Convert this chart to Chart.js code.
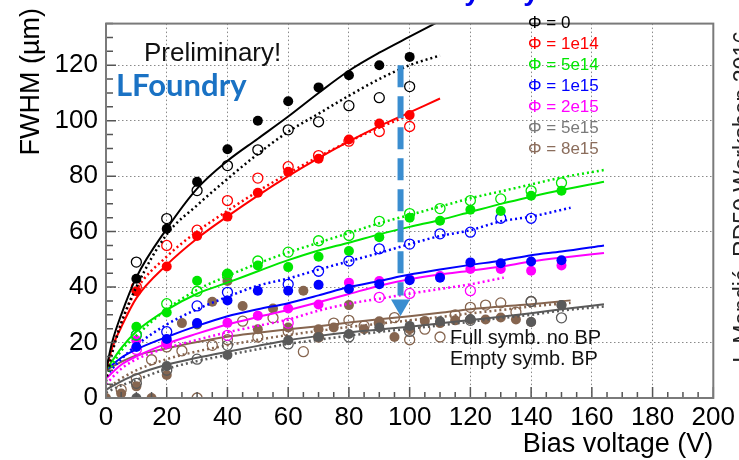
<!DOCTYPE html>
<html>
<head>
<meta charset="utf-8">
<script src="https://cdn.jsdelivr.net/npm/chart.js@4.4.0/dist/chart.umd.min.js"></script>
<style>
    html, body { margin: 0; padding: 0; background: #fff; }
    #wrap { width: 739px; height: 460px; }
</style>
</head>
<body>
<div id="wrap"><canvas id="fwhmChart" width="739" height="460"></canvas></div>
<script>
// Axis ticks
const xTickValues = [0, 20, 40, 60, 80, 100, 120, 140, 160, 180, 200];
const yTickValues = [0, 20, 40, 60, 80, 100, 120];

// Legend labels (one per fluence)
const fluenceLabels = ['Φ = 0', 'Φ = 1e14', 'Φ = 5e14', 'Φ = 1e15', 'Φ = 2e15', 'Φ = 5e15', 'Φ = 8e15'];

// Measured points [bias V, FWHM um]: Full = no BP, Empty = BP
const phi0Full = [[10, 43], [20, 61], [30, 78], [40, 89.7], [50, 100], [60, 107], [70, 112], [80, 116.4], [90, 120], [100, 123]];
const phi0Empty = [[10, 49], [20, 64.7], [30, 74.8], [40, 83.8], [50, 89.5], [60, 96.7], [70, 99.6], [80, 105.4], [90, 108.3], [100, 112.3]];
const phi1e14Full = [[10, 38.5], [20, 47.4], [30, 58.4], [40, 65.4], [50, 74], [60, 81.6], [70, 86.3], [80, 93.2], [90, 99], [100, 102]];
const phi1e14Empty = [[10, 40], [20, 55], [30, 60.5], [40, 71.2], [50, 79.3], [60, 83.4], [70, 87.4], [80, 92.6], [90, 96.1], [100, 97.9]];
const phi5e14Full = [[10, 25.7], [20, 30.8], [30, 42.3], [40, 44.9], [50, 47.8], [60, 47.2], [70, 50.9], [80, 53], [90, 58], [100, 65], [110, 63.9], [120, 67.9], [130, 67.4], [140, 72.9], [150, 74.7]];
const phi5e14Empty = [[10, 22.7], [20, 34], [30, 38.5], [40, 44.5], [50, 49.4], [60, 52.6], [70, 56.7], [80, 58.6], [90, 63.7], [100, 66.5], [110, 68.3], [120, 71.2], [130, 71.8], [140, 74.7], [150, 77.6]];
const phi1e15Full = [[10, 18.4], [20, 21.3], [30, 27], [40, 35.2], [50, 38.7], [60, 38.7], [70, 40.8], [80, 39.3], [90, 41], [100, 42.5], [110, 43.4], [120, 48.9], [130, 48.6], [140, 49.2], [150, 49.7]];
const phi1e15Empty = [[10, 22.7], [20, 23.9], [30, 33.2], [40, 38.1], [60, 41], [70, 45.7], [80, 49.4], [90, 53.8], [100, 55.5], [110, 59.2], [120, 59.8], [130, 64.8], [140, 64.8]];
const phi2e15Full = [[10, 20.8], [20, 19.6], [40, 27.1], [50, 29.7], [60, 32.3], [70, 33.7], [80, 41.6], [90, 42.2], [100, 42.8], [110, 44], [120, 46.5], [130, 46.5], [140, 45.9], [150, 47.8]];
const phi2e15Empty = [[10, 17.5], [20, 20], [40, 22.6], [60, 27], [90, 36.3], [100, 37.7], [120, 38.7]];
const phi5e15Full = [[10, 0], [20, 11.5], [30, 26.5], [40, 15.5], [60, 20.8], [70, 22], [80, 23.1], [90, 25.4], [100, 26], [110, 27.7], [120, 28.5], [140, 27.4], [150, 33.5]];
const phi5e15Empty = [[10, 5.3], [20, 10], [30, 14], [40, 19], [60, 19.5], [80, 22], [100, 24], [120, 28], [140, 34.8], [150, 28.9]];
const phi8e15Full = [[0, 0], [5, 1.6], [10, 4.2], [15, 0], [20, 8.3], [25, 27], [35, 34.7], [40, 42.2], [45, 33.2], [50, 24.8], [55, 32.3], [60, 25.4], [65, 38.7], [70, 24.8], [75, 25.4], [80, 33.5], [85, 24.8], [90, 27.7], [95, 22], [100, 24.8], [105, 27.8], [110, 27], [115, 28], [120, 28.3], [125, 28.3], [130, 29], [135, 28.3], [140, 27.4], [150, 33.5]];
const phi8e15Empty = [[5, 3], [10, 7], [15, 13.8], [20, 18.4], [25, 17], [30, 0], [35, 19], [40, 21], [45, 27.7], [50, 22], [55, 28.9], [60, 24], [65, 16.7], [70, 22], [75, 27], [80, 28], [85, 26], [90, 27], [95, 29], [100, 21], [105, 24.8], [110, 22], [115, 30], [120, 32.7], [125, 33.5], [130, 34.3], [135, 31], [140, 34.8]];

// Fit curves: solid = no BP, dotted = BP
const phi0FitFull = [[0, 10], [2, 20], [5, 30], [10, 43.5], [20, 61], [30, 75.5], [40, 85.5], [50, 93.5], [60, 101.5], [70, 110], [80, 118], [90, 124.5], [100, 130.3], [110, 136]];
const phi0FitEmpty = [[0, 6], [2, 16], [5, 27], [10, 40], [20, 59], [30, 69.5], [40, 79], [50, 88], [60, 96], [70, 102.5], [80, 109], [90, 115], [100, 120], [110, 123.5]];
const phi1e14FitFull = [[0, 10], [2, 18], [5, 25.5], [10, 36], [20, 48], [30, 57.5], [40, 65.5], [50, 73], [60, 80], [70, 86.5], [80, 92.5], [90, 98], [100, 103], [110, 108]];
const phi1e14FitEmpty = [[0, 8], [2, 17], [5, 27], [10, 39], [20, 51], [30, 60], [40, 67.5], [50, 74.5], [60, 81], [70, 87], [80, 92.5], [90, 97.5], [100, 102]];
const phi5e14FitFull = [[0, 10], [5, 18], [10, 24], [20, 31.8], [30, 37.6], [40, 41.6], [50, 45.7], [60, 49.7], [70, 53.2], [80, 56], [90, 59], [100, 61.7], [110, 64.2], [120, 67.1], [130, 70], [140, 72.6], [150, 75], [164, 78]];
const phi5e14FitEmpty = [[0, 8], [5, 17], [10, 22.5], [20, 32], [30, 39], [40, 44], [50, 48.5], [60, 52.5], [70, 56], [80, 59.5], [90, 63], [100, 66], [110, 69], [120, 72], [130, 74.5], [140, 77], [150, 79.5], [164, 82.2]];
const phi1e15FitFull = [[0, 10], [5, 14.5], [10, 17.5], [20, 22], [30, 26], [40, 29.5], [50, 32], [60, 34.2], [70, 37], [80, 40], [90, 42.2], [100, 44.5], [110, 46.3], [120, 48], [130, 49.5], [140, 51.5], [150, 52.8], [164, 55]];
const phi1e15FitEmpty = [[0, 8], [5, 14], [10, 19], [20, 26.5], [30, 32], [40, 36.5], [50, 40.5], [60, 43.1], [70, 46.3], [80, 49.3], [90, 52.3], [100, 55.5], [110, 58.4], [120, 60.5], [130, 63.7], [140, 65.4], [153, 68.6]];
const phi2e15FitFull = [[0, 7], [5, 12], [10, 15], [20, 19.6], [30, 23.2], [40, 26.5], [50, 29.2], [60, 31.7], [70, 34.5], [80, 37.5], [90, 40.5], [100, 42.8], [110, 44.5], [120, 45.9], [130, 47.4], [140, 49.2], [150, 50.6], [164, 52.3]];
const phi2e15FitEmpty = [[0, 5], [5, 10.5], [10, 14], [20, 18], [30, 21], [40, 23.7], [50, 26], [60, 28.3], [70, 31.5], [80, 34], [90, 35.8], [100, 37.6], [110, 39.3], [120, 41], [131, 43.4]];
const phi5e15FitFull = [[0, 3], [5, 6], [10, 8.5], [20, 12], [30, 14.5], [40, 16.7], [50, 18.8], [60, 20.8], [70, 22.4], [80, 23.7], [90, 24.7], [100, 25.7], [110, 26.9], [120, 28.1], [130, 29.3], [140, 30.6], [150, 32], [164, 33.8]];
const phi5e15FitEmpty = [[0, 2], [5, 4.5], [10, 6.5], [20, 10.5], [30, 13.3], [40, 15.5], [50, 17.6], [60, 19.5], [70, 21], [80, 22.5], [90, 23.8], [100, 25], [110, 26.2], [120, 27.5], [130, 28.8], [140, 30], [150, 31.5], [164, 33]];
const phi8e15FitFull = [[0, 10], [5, 13], [10, 15.3], [20, 17.9], [30, 20.2], [40, 22.1], [50, 23.5], [60, 24.8], [70, 25.9], [80, 27.2], [90, 28.4], [100, 29.5], [110, 30.7], [120, 32], [130, 33], [140, 33.8], [153, 35.2]];
const phi8e15FitEmpty = [[0, 3], [5, 7], [10, 10], [20, 14], [30, 16.8], [40, 19], [50, 21], [60, 22.7], [70, 24.2], [80, 25.6], [90, 26.8], [100, 28], [110, 29.2], [120, 30.5], [130, 31.7], [140, 33], [153, 34.3]];

// Blue arrow (bias V, FWHM um)
const arrowShaft = [[97, 120], [97, 37]];
const arrowHead = [[97, 33.5]];

// Styles
const fluenceColors = ['#000000', '#ff0000', '#00e600', '#0000ff', '#ff00ff', '#5a5a5a', '#86654f'];
const legendColors = ['#000000', '#ff0000', '#00e600', '#0000ff', '#ff00ff', '#7a7a7a', '#8b6d5c'];
const arrowColor = '#3a8dd0';
const FONT = '"Liberation Sans", Arial, Helvetica, sans-serif';

const fluences = [
    { full: phi0Full, empty: phi0Empty, fitFull: phi0FitFull, fitEmpty: phi0FitEmpty },
    { full: phi1e14Full, empty: phi1e14Empty, fitFull: phi1e14FitFull, fitEmpty: phi1e14FitEmpty },
    { full: phi5e14Full, empty: phi5e14Empty, fitFull: phi5e14FitFull, fitEmpty: phi5e14FitEmpty },
    { full: phi1e15Full, empty: phi1e15Empty, fitFull: phi1e15FitFull, fitEmpty: phi1e15FitEmpty },
    { full: phi2e15Full, empty: phi2e15Empty, fitFull: phi2e15FitFull, fitEmpty: phi2e15FitEmpty },
    { full: phi5e15Full, empty: phi5e15Empty, fitFull: phi5e15FitFull, fitEmpty: phi5e15FitEmpty },
    { full: phi8e15Full, empty: phi8e15Empty, fitFull: phi8e15FitFull, fitEmpty: phi8e15FitEmpty }
];

function toPoints(arr) {
    return arr.map(p => ({ x: p[0], y: p[1] }));
}

function buildDatasets() {
    const datasets = [];

    // arrow on top of everything
    datasets.push({
        data: toPoints(arrowShaft),
        showLine: true,
        borderColor: arrowColor,
        borderWidth: 6,
        borderDash: [22, 9],
        pointRadius: 0
    });
    datasets.push({
        data: toPoints(arrowHead),
        pointStyle: 'triangle',
        rotation: 180,
        pointRadius: 11,
        backgroundColor: arrowColor,
        borderColor: arrowColor,
        borderWidth: 0
    });

    fluences.forEach((f, i) => {
        const color = fluenceColors[i];
        datasets.push({
            data: toPoints(f.full),
            pointStyle: 'circle',
            pointRadius: 5,
            backgroundColor: color,
            borderColor: color,
            borderWidth: 0
        });
        datasets.push({
            data: toPoints(f.empty),
            pointStyle: 'circle',
            pointRadius: 5,
            backgroundColor: 'rgba(0,0,0,0)',
            borderColor: color,
            borderWidth: 1.3
        });
        datasets.push({
            data: toPoints(f.fitFull),
            showLine: true,
            borderColor: color,
            borderWidth: 2,
            tension: 0.4,
            cubicInterpolationMode: 'monotone',
            pointRadius: 0
        });
        datasets.push({
            data: toPoints(f.fitEmpty),
            showLine: true,
            borderColor: color,
            borderWidth: 2.5,
            borderDash: [2, 3],
            tension: 0.4,
            cubicInterpolationMode: 'monotone',
            pointRadius: 0
        });
    });
    return datasets;
}

// Frame, inner ticks, titles and free texts
const decorPlugin = {
    id: 'decor',
    afterDraw(chart) {
        const ctx = chart.ctx;
        const area = chart.chartArea;
        const xs = chart.scales.x;
        const ys = chart.scales.y;
        ctx.save();

        // inner tick marks (major every 20, minor every 5)
        ctx.strokeStyle = '#555';
        ctx.lineWidth = 1.5;
        ctx.beginPath();
        for (let v = 0; v <= xs.max; v += 5) {
            const px = xs.getPixelForValue(v);
            const len = v % 20 === 0 ? 11 : 6;
            ctx.moveTo(px, area.bottom);
            ctx.lineTo(px, area.bottom - len);
        }
        for (let v = 0; v <= ys.max; v += 5) {
            const py = ys.getPixelForValue(v);
            const len = v % 20 === 0 ? 10 : 7;
            ctx.moveTo(area.left, py);
            ctx.lineTo(area.left + len, py);
        }
        ctx.stroke();

        // frame
        ctx.strokeStyle = '#7a7a7a';
        ctx.lineWidth = 2;
        ctx.strokeRect(area.left, area.top, area.right - area.left, area.bottom - area.top);

        // axis titles
        ctx.fillStyle = '#000';
        ctx.font = '27px ' + FONT;
        ctx.textAlign = 'right';
        ctx.textBaseline = 'alphabetic';
        ctx.fillText('Bias voltage (V)', area.right, 452);

        ctx.save();
        ctx.translate(39, 8);
        ctx.rotate(-Math.PI / 2);
        ctx.textAlign = 'right';
        ctx.fillText('FWHM (\u00b5m)', 0, 0);
        ctx.restore();

        // Preliminary / LFoundry
        ctx.textAlign = 'left';
        ctx.font = '26px ' + FONT;
        ctx.fillStyle = '#111';
        ctx.fillText('Preliminary!', 144, 61);
        ctx.font = 'bold 31px Lato, "Open Sans", sans-serif';
        ctx.fillStyle = '#1a72c4';
        ctx.fillText('LFoundry', 116, 96);

        // legend texts
        ctx.font = '17px ' + FONT;
        ctx.textBaseline = 'middle';
        fluenceLabels.forEach((lab, i) => {
            ctx.fillStyle = legendColors[i];
            ctx.fillText(lab, 528, 23 + i * 21);
        });

        // symbol note
        ctx.fillStyle = '#111';
        ctx.font = '20px ' + FONT;
        ctx.fillText('Full symb. no BP', 450, 338);
        ctx.fillText('Empty symb. BP', 450, 359);

        // cut-off title above the frame
        ctx.fillStyle = '#0000ee';
        ctx.font = 'bold 28px ' + FONT;
        ctx.textBaseline = 'alphabetic';
        ctx.textAlign = 'center';
        ctx.fillText('y', 472, 0);
        ctx.fillText('y', 531, 0);

        // side note, cut at the right edge
        ctx.save();
        ctx.translate(750, 363);
        ctx.rotate(-Math.PI / 2);
        ctx.textAlign = 'left';
        ctx.fillStyle = '#222';
        ctx.font = '23px ' + FONT;
        ctx.fillText('I. Mandi\u0107, RD50 Workshop 2016', 0, 0);
        ctx.restore();

        ctx.restore();
    }
};

const ctx = document.getElementById('fwhmChart').getContext('2d');

const fwhmChart = new Chart(ctx, {
    type: 'scatter',
    data: { datasets: buildDatasets() },
    options: {
        responsive: false,
        animation: false,
        events: [],
        layout: { padding: { left: 0, top: 10, right: 21, bottom: 0 } },
        plugins: {
            legend: { display: false },
            tooltip: { enabled: false }
        },
        scales: {
            x: {
                type: 'linear',
                min: 0,
                max: 200,
                afterFit: function(scale) { scale.height = 62; },
                afterBuildTicks: function(scale) {
                    scale.ticks = xTickValues.map(v => ({ value: v }));
                },
                ticks: {
                    font: { family: FONT, size: 26 },
                    color: '#000',
                    padding: 4,
                    maxRotation: 0,
                    autoSkip: false
                },
                grid: { color: '#8a8a8a', lineWidth: 1, drawTicks: false },
                border: { display: false, dash: [1.5, 2.5] }
            },
            y: {
                type: 'linear',
                min: 0,
                max: 135,
                afterFit: function(scale) { scale.width = 106; },
                afterBuildTicks: function(scale) {
                    scale.ticks = yTickValues.map(v => ({ value: v }));
                },
                ticks: {
                    font: { family: FONT, size: 26 },
                    color: '#000',
                    padding: 8
                },
                grid: { color: '#8a8a8a', lineWidth: 1, drawTicks: false },
                border: { display: false, dash: [1.5, 2.5] }
            }
        }
    },
    plugins: [decorPlugin]
});
</script>
</body>
</html>
